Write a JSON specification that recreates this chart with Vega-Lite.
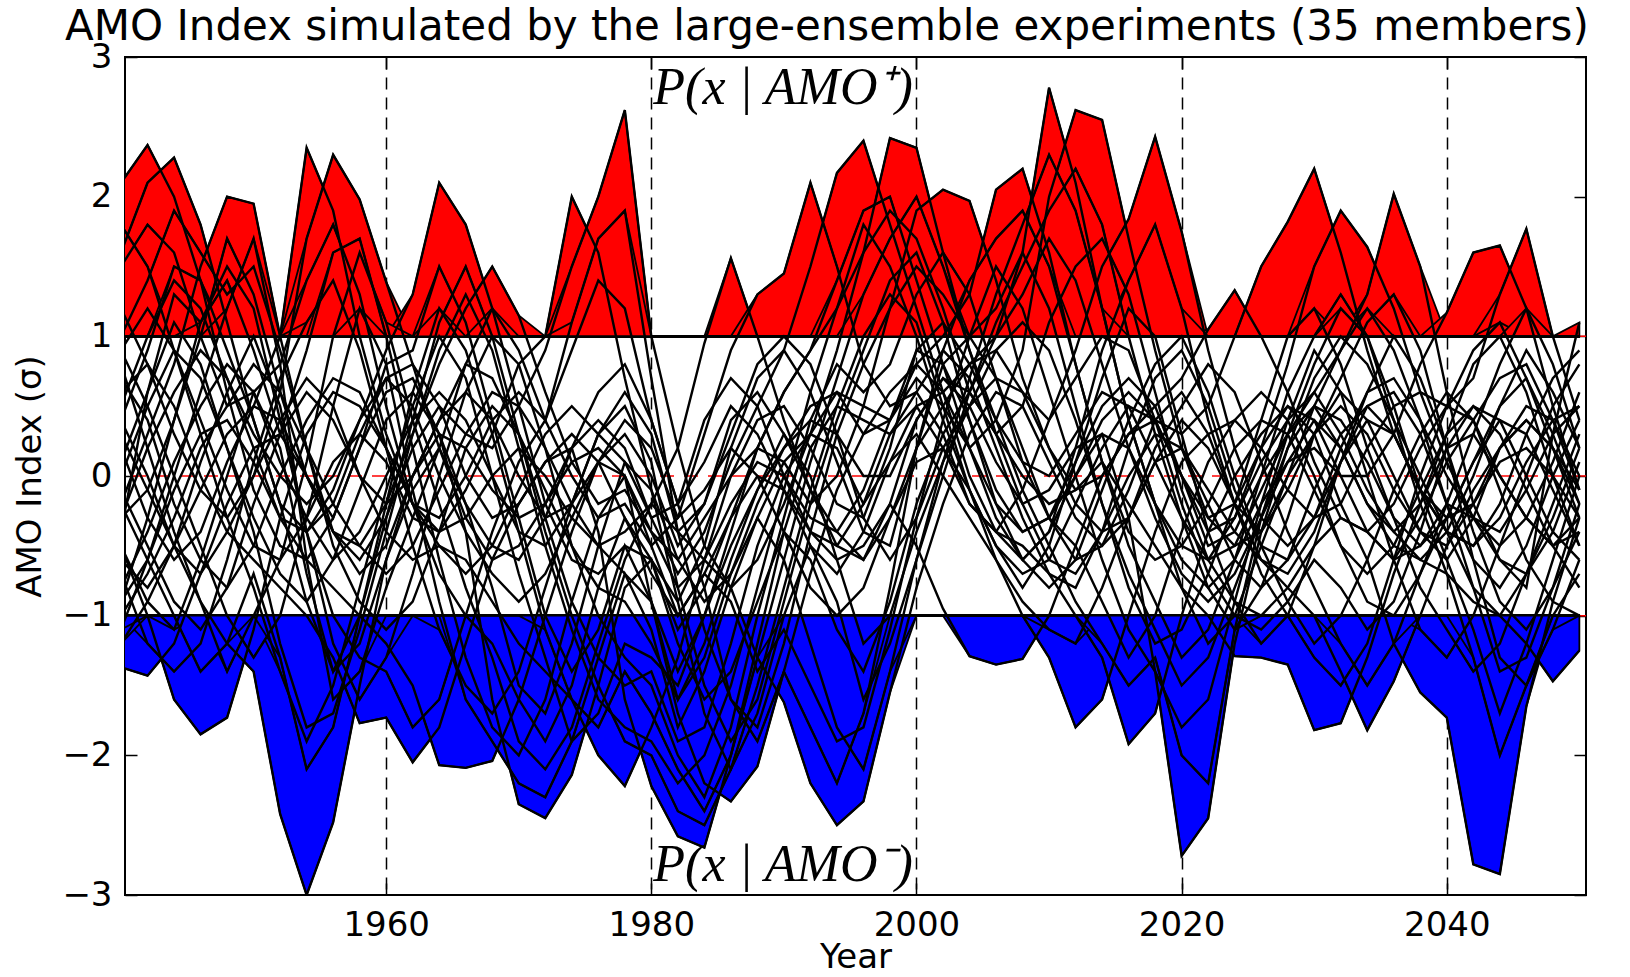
{
"$schema":"https://vega.github.io/schema/vega-lite/v6.json",
"width":1461,"height":838,
"autosize":{"type":"none"},
"padding":{"left":125,"top":57,"right":44,"bottom":82},
"background":"white",
"config":{"view":{"stroke":"black","strokeWidth":2},"font":"DejaVu Sans",
"axis":{"labelFont":"DejaVu Sans","titleFont":"DejaVu Sans","labelColor":"black","titleColor":"black","tickColor":"black","tickWidth":1.5,"titleFontWeight":"normal"}},
"title":{"text":"AMO Index simulated by the large-ensemble experiments (35 members)","font":"DejaVu Sans","fontSize":42,"fontWeight":"normal","color":"black","anchor":"start","frame":"group","dx":-60,"dy":56,"offset":14,"baseline":"alphabetic"},
"datasets":{
"refs":[{"level":0},{"level":1},{"level":-1}],
"notes":[{"x":1980,"y":2.66,"label":"P(x | AMO⁺)"},{"x":1980,"y":-2.9,"label":"P(x | AMO⁻)"}],
"ens":[
{"m":"m1","1940":2.1,"1942":2.37,"1944":2.0,"1946":1.4,"1948":0.6,"1950":-0.1,"1952":-0.5,"1954":-0.6,"1956":-0.3,"1958":0.2,"1960":0.6,"1962":0.7,"1964":0.3,"1966":-0.4,"1968":-1.6,"1970":-2.35,"1972":-2.45,"1974":-2.14,"1976":-1.5,"1978":-0.8,"1980":-0.6,"1982":-0.9,"1984":-0.5,"1986":0.2,"1988":0.7,"1990":0.9,"1992":0.6,"1994":0.1,"1996":-0.4,"1998":-0.5,"2000":0.2,"2002":0.8,"2004":1.0,"2006":0.7,"2008":0.2,"2010":-0.3,"2012":-0.6,"2014":-0.5,"2016":-0.1,"2018":0.4,"2020":0.6,"2022":0.3,"2024":-0.2,"2026":-0.6,"2028":-0.7,"2030":-0.4,"2032":0.1,"2034":0.5,"2036":0.6,"2038":0.3,"2040":-0.2,"2042":-0.6,"2044":-0.8,"2046":-0.5,"2048":0.0,"2050":0.4},
{"m":"m2","1940":1.6,"1942":2.1,"1944":2.28,"1946":1.8,"1948":1.1,"1950":0.4,"1952":-0.2,"1954":-0.4,"1956":-0.2,"1958":0.3,"1960":0.7,"1962":0.8,"1964":0.5,"1966":0.0,"1968":-0.3,"1970":-0.2,"1972":0.1,"1974":0.2,"1976":-0.4,"1978":-1.6,"1980":-2.22,"1982":-2.58,"1984":-2.66,"1986":-2.0,"1988":-1.2,"1990":-0.4,"1992":0.2,"1994":0.5,"1996":0.4,"1998":0.3,"2000":0.6,"2002":0.9,"2004":0.7,"2006":0.2,"2008":-0.3,"2010":-0.7,"2012":-0.8,"2014":-0.4,"2016":0.2,"2018":0.7,"2020":0.9,"2022":0.5,"2024":-0.1,"2026":-0.5,"2028":-0.6,"2030":-0.3,"2032":0.2,"2034":0.6,"2036":0.7,"2038":0.4,"2040":0.0,"2042":-0.3,"2044":-0.4,"2046":-0.1,"2048":0.3,"2050":0.5},
{"m":"m3","1940":-0.2,"1942":0.3,"1944":0.8,"1946":1.5,"1948":2.0,"1950":1.95,"1952":1.0,"1954":0.2,"1956":-0.4,"1958":-0.7,"1960":-0.5,"1962":0.0,"1964":0.4,"1966":0.6,"1968":0.4,"1970":0.0,"1972":-0.3,"1974":-0.2,"1976":0.3,"1978":0.6,"1980":0.3,"1982":-0.4,"1984":-0.6,"1986":-0.8,"1988":-1.3,"1990":-1.62,"1992":-2.2,"1994":-2.5,"1996":-2.33,"1998":-1.55,"2000":-0.8,"2002":-0.2,"2004":0.3,"2006":0.6,"2008":0.5,"2010":0.1,"2012":-0.3,"2014":-0.5,"2016":-0.3,"2018":0.1,"2020":0.4,"2022":0.2,"2024":-0.2,"2026":-0.4,"2028":-0.1,"2030":0.3,"2032":0.6,"2034":0.4,"2036":0.0,"2038":-0.4,"2040":-0.6,"2042":-0.3,"2044":0.2,"2046":0.5,"2048":0.4,"2050":0.0},
{"m":"m4","1940":-0.6,"1942":-0.8,"1944":-0.5,"1946":-0.1,"1948":0.3,"1950":0.5,"1952":1.0,"1954":2.35,"1956":1.9,"1958":1.0,"1960":0.3,"1962":-0.2,"1964":-0.4,"1966":-0.3,"1968":0.0,"1970":0.2,"1972":0.0,"1974":-0.3,"1976":-0.5,"1978":-0.4,"1980":-0.2,"1982":0.2,"1984":0.95,"1986":1.56,"1988":1.0,"1990":0.4,"1992":-0.1,"1994":-0.5,"1996":-0.6,"1998":-0.2,"2000":0.4,"2002":0.7,"2004":0.5,"2006":0.1,"2008":-0.2,"2010":-0.1,"2012":0.2,"2014":0.3,"2016":-0.3,"2018":-1.4,"2020":-2.72,"2022":-2.45,"2024":-1.2,"2026":-0.4,"2028":0.2,"2030":0.5,"2032":0.4,"2034":0.1,"2036":-0.3,"2038":-0.5,"2040":-0.3,"2042":0.1,"2044":0.4,"2046":0.3,"2048":-0.1,"2050":-0.5},
{"m":"m5","1940":0.4,"1942":0.0,"1944":-0.5,"1946":-0.7,"1948":-0.4,"1950":0.0,"1952":0.6,"1954":1.7,"1956":2.3,"1958":1.98,"1960":1.39,"1962":0.8,"1964":0.2,"1966":-0.3,"1968":-0.6,"1970":-0.5,"1972":-0.2,"1974":0.2,"1976":0.4,"1978":0.2,"1980":-0.3,"1982":-0.7,"1984":-0.4,"1986":0.1,"1988":0.5,"1990":0.9,"1992":1.5,"1994":2.17,"1996":2.4,"1998":1.8,"2000":1.2,"2002":0.6,"2004":0.0,"2006":-0.4,"2008":-0.6,"2010":-0.4,"2012":0.0,"2014":0.4,"2016":0.6,"2018":0.4,"2020":0.0,"2022":-0.3,"2024":-0.2,"2026":0.2,"2028":0.5,"2030":0.3,"2032":-0.2,"2034":-0.6,"2036":-1.2,"2038":-1.55,"2040":-1.73,"2042":-2.78,"2044":-2.85,"2046":-1.65,"2048":-0.9,"2050":-0.3},
{"m":"m6","1940":-0.9,"1942":-0.6,"1944":-0.1,"1946":0.3,"1948":0.4,"1950":0.1,"1952":-0.3,"1954":-0.4,"1956":-0.1,"1958":0.4,"1960":0.9,"1962":1.3,"1964":2.1,"1966":1.8,"1968":1.2,"1970":0.5,"1972":-0.2,"1974":-0.6,"1976":-0.7,"1978":-0.5,"1980":-0.6,"1982":-1.1,"1984":-0.8,"1986":-0.3,"1988":0.2,"1990":0.6,"1992":0.9,"1994":1.2,"1996":1.6,"1998":2.42,"2000":2.35,"2002":1.6,"2004":0.9,"2006":0.3,"2008":-0.2,"2010":-0.6,"2012":-0.7,"2014":-0.4,"2016":0.0,"2018":0.3,"2020":0.2,"2022":-0.2,"2024":-0.6,"2026":-0.8,"2028":-0.6,"2030":-0.1,"2032":0.3,"2034":0.5,"2036":0.3,"2038":-0.1,"2040":-0.4,"2042":-0.5,"2044":-0.2,"2046":0.3,"2048":0.7,"2050":0.9},
{"m":"m7","1940":-1.37,"1942":-1.43,"1944":-1.2,"1946":-0.7,"1948":-0.2,"1950":0.2,"1952":0.3,"1954":0.0,"1956":-0.4,"1958":-0.5,"1960":-0.2,"1962":0.3,"1964":0.8,"1966":1.2,"1968":1.5,"1970":1.15,"1972":0.6,"1974":0.1,"1976":-0.2,"1978":-0.1,"1980":-0.4,"1982":-0.8,"1984":-0.6,"1986":-0.2,"1988":0.1,"1990":0.0,"1992":-0.3,"1994":-0.4,"1996":-0.1,"1998":0.4,"2000":0.8,"2002":1.0,"2004":1.3,"2006":2.05,"2008":2.2,"2010":1.6,"2012":0.8,"2014":0.1,"2016":-0.4,"2018":-0.6,"2020":-0.5,"2022":-0.2,"2024":0.2,"2026":0.4,"2028":0.3,"2030":-0.1,"2032":-0.5,"2034":-0.7,"2036":-0.5,"2038":-0.1,"2040":0.3,"2042":0.5,"2044":0.4,"2046":0.0,"2048":-0.4,"2050":-0.6},
{"m":"m8","1940":0.9,"1942":1.2,"1944":0.9,"1946":0.4,"1948":-0.1,"1950":-0.5,"1952":-0.6,"1954":-0.3,"1956":0.1,"1958":0.3,"1960":0.1,"1962":-0.3,"1964":-0.4,"1966":-0.1,"1968":0.3,"1970":0.8,"1972":1.0,"1974":2.0,"1976":1.6,"1978":0.7,"1980":-0.1,"1982":-0.6,"1984":-0.9,"1986":-0.7,"1988":-0.3,"1990":0.1,"1992":0.3,"1994":0.2,"1996":-0.2,"1998":0.1,"2000":0.5,"2002":0.6,"2004":0.8,"2006":1.0,"2008":1.6,"2010":2.78,"2012":2.1,"2014":1.2,"2016":0.4,"2018":-0.2,"2020":-0.5,"2022":-0.6,"2024":-0.3,"2026":0.1,"2028":0.4,"2030":0.6,"2032":0.3,"2034":-0.1,"2036":-0.4,"2038":-0.6,"2040":-0.4,"2042":0.0,"2044":0.5,"2046":0.9,"2048":0.6,"2050":0.2},
{"m":"m9","1940":0.2,"1942":-0.3,"1944":-0.6,"1946":-0.4,"1948":0.1,"1950":0.5,"1952":0.4,"1954":0.0,"1956":-0.4,"1958":-0.6,"1960":-0.3,"1962":0.2,"1964":0.5,"1966":0.3,"1968":0.2,"1970":0.5,"1972":0.9,"1974":1.5,"1976":2.0,"1978":2.62,"1980":1.0,"1982":0.2,"1984":-0.5,"1986":-0.8,"1988":-0.6,"1990":-0.2,"1992":0.3,"1994":0.6,"1996":0.5,"1998":0.4,"2000":0.7,"2002":0.5,"2004":0.2,"2006":0.4,"2008":0.9,"2010":2.0,"2012":2.62,"2014":2.55,"2016":1.7,"2018":0.9,"2020":0.2,"2022":-0.3,"2024":-0.5,"2026":-0.4,"2028":0.0,"2030":0.3,"2032":0.5,"2034":0.3,"2036":-0.1,"2038":-0.4,"2040":-0.5,"2042":-0.2,"2044":0.2,"2046":0.4,"2048":0.2,"2050":-0.2},
{"m":"m10","1940":-0.5,"1942":-1.0,"1944":-1.6,"1946":-1.85,"1948":-1.73,"1950":-1.1,"1952":-0.3,"1954":0.3,"1956":0.6,"1958":0.5,"1960":0.2,"1962":-0.2,"1964":-0.3,"1966":0.0,"1968":0.4,"1970":0.6,"1972":0.4,"1974":0.0,"1976":-0.3,"1978":-0.2,"1980":-0.5,"1982":-0.3,"1984":0.3,"1986":0.9,"1988":1.3,"1990":1.45,"1992":2.1,"1994":1.5,"1996":0.8,"1998":0.5,"2000":0.6,"2002":0.3,"2004":-0.2,"2006":-0.4,"2008":-0.1,"2010":0.4,"2012":0.9,"2014":1.5,"2016":1.84,"2018":2.43,"2020":1.75,"2022":0.9,"2024":0.2,"2026":-0.3,"2028":-0.5,"2030":-0.3,"2032":0.1,"2034":0.4,"2036":0.3,"2038":-0.1,"2040":-0.4,"2042":-0.5,"2044":-0.3,"2046":0.1,"2048":0.4,"2050":0.5},
{"m":"m11","1940":0.3,"1942":-0.1,"1944":-0.5,"1946":-0.9,"1948":-1.2,"1950":-1.4,"1952":-2.42,"1954":-3.0,"1956":-2.48,"1958":-1.5,"1960":-0.6,"1962":0.0,"1964":0.3,"1966":0.2,"1968":-0.1,"1970":-0.3,"1972":-0.2,"1974":0.1,"1976":0.2,"1978":0.0,"1980":-0.4,"1982":-0.6,"1984":-0.3,"1986":0.0,"1988":0.2,"1990":0.1,"1992":-0.2,"1994":0.0,"1996":0.5,"1998":1.2,"2000":1.9,"2002":2.05,"2004":1.97,"2006":1.4,"2008":0.7,"2010":0.2,"2012":-0.1,"2014":0.0,"2016":0.3,"2018":0.5,"2020":0.7,"2022":1.05,"2024":1.33,"2026":1.0,"2028":0.6,"2030":0.1,"2032":-0.3,"2034":-0.4,"2036":-0.2,"2038":0.2,"2040":0.5,"2042":0.4,"2044":0.0,"2046":-0.3,"2048":-0.5,"2050":-0.4},
{"m":"m12","1940":0.6,"1942":0.8,"1944":0.5,"1946":0.0,"1948":-0.4,"1950":-0.6,"1952":-0.8,"1954":-1.0,"1956":-1.3,"1958":-1.77,"1960":-1.73,"1962":-2.05,"1964":-1.8,"1966":-1.2,"1968":-0.6,"1970":-0.2,"1972":0.1,"1974":0.3,"1976":0.1,"1978":-0.3,"1980":-0.7,"1982":-1.0,"1984":-0.7,"1986":-0.3,"1988":0.0,"1990":-0.1,"1992":-0.4,"1994":-0.6,"1996":-0.5,"1998":-0.2,"2000":-0.5,"2002":-0.95,"2004":-1.29,"2006":-1.35,"2008":-1.31,"2010":-1.0,"2012":-0.5,"2014":0.0,"2016":0.3,"2018":0.4,"2020":0.3,"2022":0.5,"2024":1.0,"2026":1.5,"2028":1.82,"2030":2.2,"2032":1.6,"2034":0.9,"2036":0.3,"2038":-0.1,"2040":-0.3,"2042":-0.2,"2044":0.1,"2046":0.2,"2048":0.0,"2050":-0.3},
{"m":"m13","1940":-0.3,"1942":0.2,"1944":0.6,"1946":0.9,"1948":0.7,"1950":0.2,"1952":-0.3,"1954":-0.6,"1956":-0.8,"1958":-1.0,"1960":-1.2,"1962":-1.5,"1964":-2.07,"1966":-2.09,"1968":-2.04,"1970":-1.6,"1972":-1.0,"1974":-0.4,"1976":0.1,"1978":0.3,"1980":0.0,"1982":-0.5,"1984":-0.2,"1986":0.4,"1988":0.6,"1990":0.3,"1992":-0.1,"1994":-0.4,"1996":-0.6,"1998":-0.3,"2000":0.1,"2002":0.2,"2004":-0.1,"2006":-0.5,"2008":-0.7,"2010":-0.6,"2012":-0.2,"2014":0.2,"2016":0.5,"2018":0.4,"2020":0.0,"2022":-0.4,"2024":-0.3,"2026":0.2,"2028":0.8,"2030":1.5,"2032":1.9,"2034":1.64,"2036":1.2,"2038":0.6,"2040":0.1,"2042":-0.3,"2044":-0.5,"2046":-0.3,"2048":0.1,"2050":0.6},
{"m":"m14","1940":1.2,"1942":0.8,"1944":0.3,"1946":-0.1,"1948":-0.3,"1950":0.0,"1952":0.4,"1954":0.7,"1956":0.5,"1958":0.0,"1960":-0.4,"1962":-0.6,"1964":-0.5,"1966":-0.6,"1968":-0.9,"1970":-1.2,"1972":-1.4,"1974":-1.6,"1976":-2.0,"1978":-2.22,"1980":-1.8,"1982":-1.3,"1984":-0.6,"1986":0.0,"1988":0.4,"1990":0.5,"1992":0.2,"1994":-0.2,"1996":-0.3,"1998":0.2,"2000":0.9,"2002":0.8,"2004":0.4,"2006":-0.1,"2008":-0.4,"2010":-0.3,"2012":0.1,"2014":0.5,"2016":0.7,"2018":0.5,"2020":0.0,"2022":-0.5,"2024":-0.4,"2026":0.0,"2028":0.3,"2030":0.6,"2032":0.9,"2034":1.3,"2036":2.02,"2038":1.5,"2040":0.6,"2042":-0.2,"2044":-0.6,"2046":-0.7,"2048":-0.4,"2050":0.1},
{"m":"m15","1940":-0.8,"1942":-0.4,"1944":0.1,"1946":0.5,"1948":0.8,"1950":0.6,"1952":0.1,"1954":-0.3,"1956":-0.6,"1958":-0.4,"1960":0.0,"1962":0.4,"1964":0.6,"1966":0.4,"1968":0.0,"1970":-0.4,"1972":-0.5,"1974":-0.2,"1976":0.1,"1978":0.0,"1980":-0.9,"1982":-1.7,"1984":-2.2,"1986":-2.33,"1988":-2.08,"1990":-1.4,"1992":-0.7,"1994":-0.1,"1996":0.3,"1998":0.6,"2000":0.8,"2002":0.6,"2004":0.2,"2006":-0.2,"2008":-0.4,"2010":-0.3,"2012":0.0,"2014":0.3,"2016":0.2,"2018":-0.2,"2020":-0.6,"2022":-0.8,"2024":-0.6,"2026":-0.2,"2028":0.1,"2030":0.2,"2032":0.0,"2034":0.0,"2036":0.3,"2038":0.8,"2040":1.17,"2042":1.6,"2044":1.65,"2046":1.2,"2048":0.5,"2050":-0.1},
{"m":"m16","1940":0.0,"1942":0.5,"1944":0.9,"1946":0.7,"1948":0.2,"1950":-0.3,"1952":-0.7,"1954":-0.9,"1956":-0.6,"1958":-0.1,"1960":0.4,"1962":0.6,"1964":0.3,"1966":-0.2,"1968":-0.5,"1970":-0.6,"1972":-0.3,"1974":0.2,"1976":0.6,"1978":0.8,"1980":0.4,"1982":-0.2,"1984":0.1,"1986":0.5,"1988":0.3,"1990":-0.1,"1992":-0.5,"1994":-0.7,"1996":-0.4,"1998":0.1,"2000":0.3,"2002":0.0,"2004":-0.3,"2006":-0.6,"2008":-1.0,"2010":-1.3,"2012":-1.8,"2014":-1.6,"2016":-1.0,"2018":-0.4,"2020":0.1,"2022":0.3,"2024":0.4,"2026":0.2,"2028":-0.1,"2030":-0.3,"2032":-0.2,"2034":0.2,"2036":0.5,"2038":0.6,"2040":0.5,"2042":0.7,"2044":1.3,"2046":1.77,"2048":1.0,"2050":0.4},
{"m":"m17","1940":0.7,"1942":0.4,"1944":-0.2,"1946":-0.6,"1948":-0.8,"1950":-0.5,"1952":0.0,"1954":0.4,"1956":0.7,"1958":0.6,"1960":0.2,"1962":-0.2,"1964":-0.5,"1966":-0.7,"1968":-0.5,"1970":-0.1,"1972":0.3,"1974":0.5,"1976":0.3,"1978":0.1,"1980":-0.3,"1982":-0.2,"1984":0.4,"1986":0.7,"1988":0.5,"1990":0.0,"1992":-0.4,"1994":-0.5,"1996":-0.2,"1998":0.3,"2000":0.5,"2002":0.2,"2004":-0.2,"2006":-0.4,"2008":-0.5,"2010":-0.7,"2012":-1.0,"2014":-1.3,"2016":-1.92,"2018":-1.7,"2020":-1.0,"2022":-0.4,"2024":0.0,"2026":0.3,"2028":0.5,"2030":0.4,"2032":0.0,"2034":-0.4,"2036":-0.6,"2038":-0.5,"2040":-0.2,"2042":-0.3,"2044":-0.6,"2046":-0.8,"2048":0.3,"2050":1.1},
{"m":"m18","1940":-1.0,"1942":-0.7,"1944":-0.3,"1946":0.2,"1948":0.5,"1950":0.8,"1952":0.6,"1954":0.2,"1956":-0.2,"1958":-0.5,"1960":-0.7,"1962":-0.5,"1964":-0.1,"1966":0.3,"1968":0.6,"1970":0.5,"1972":0.2,"1974":-0.2,"1976":-0.5,"1978":-0.7,"1980":-0.9,"1982":-1.4,"1984":-1.0,"1986":-0.5,"1988":-0.1,"1990":0.2,"1992":0.4,"1994":0.3,"1996":0.0,"1998":0.0,"2000":0.4,"2002":0.7,"2004":0.6,"2006":0.3,"2008":0.0,"2010":-0.2,"2012":-0.1,"2014":0.1,"2016":-0.2,"2018":-0.5,"2020":-0.8,"2022":-1.0,"2024":-1.29,"2026":-1.3,"2028":-1.35,"2030":-1.82,"2032":-1.77,"2034":-1.3,"2036":-0.7,"2038":-0.2,"2040":0.2,"2042":0.3,"2044":0.0,"2046":-0.3,"2048":-0.5,"2050":-0.3},
{"m":"m19","1940":0.5,"1942":1.0,"1944":1.4,"1946":1.2,"1948":0.7,"1950":0.3,"1952":0.0,"1954":-0.2,"1956":0.0,"1958":0.4,"1960":0.7,"1962":0.5,"1964":0.0,"1966":-0.4,"1968":-0.7,"1970":-0.9,"1972":-0.7,"1974":-0.3,"1976":0.1,"1978":0.4,"1980":0.2,"1982":-0.3,"1984":-0.1,"1986":0.2,"1988":0.0,"1990":-0.4,"1992":-0.8,"1994":-1.0,"1996":-0.8,"1998":-0.3,"2000":0.2,"2002":0.5,"2004":0.8,"2006":0.9,"2008":0.6,"2010":0.2,"2012":-0.2,"2014":-0.4,"2016":-0.3,"2018":0.1,"2020":0.2,"2022":-0.1,"2024":-0.4,"2026":-0.6,"2028":-0.8,"2030":-1.0,"2032":-1.4,"2034":-1.82,"2036":-1.47,"2038":-1.0,"2040":-0.5,"2042":-0.1,"2044":0.2,"2046":0.4,"2048":0.2,"2050":-0.1},
{"m":"m20","1940":-0.1,"1942":-0.5,"1944":-0.9,"1946":-1.1,"1948":-0.8,"1950":-0.2,"1952":0.3,"1954":0.6,"1956":0.4,"1958":0.0,"1960":-0.2,"1962":0.0,"1964":0.4,"1966":0.8,"1968":0.7,"1970":0.3,"1972":-0.1,"1974":-0.5,"1976":-0.8,"1978":-0.9,"1980":-1.2,"1982":-1.6,"1984":-1.3,"1986":-0.7,"1988":-0.2,"1990":0.2,"1992":0.5,"1994":0.6,"1996":0.3,"1998":0.4,"2000":0.9,"2002":1.1,"2004":0.8,"2006":0.4,"2008":0.1,"2010":0.0,"2012":0.3,"2014":0.6,"2016":0.5,"2018":0.1,"2020":-0.3,"2022":-0.6,"2024":-0.5,"2026":-0.1,"2028":0.3,"2030":0.5,"2032":0.2,"2034":-0.2,"2036":-0.5,"2038":-0.6,"2040":-0.7,"2042":-0.9,"2044":-1.0,"2046":-1.2,"2048":-1.47,"2050":-1.25},
{"m":"m21","1940":1.5,"1942":1.8,"1944":1.6,"1946":1.0,"1948":0.5,"1950":0.6,"1952":0.8,"1954":1.4,"1956":1.8,"1958":1.3,"1960":0.5,"1962":-0.2,"1964":-0.7,"1966":-1.0,"1968":-1.2,"1970":-1.6,"1972":-1.9,"1974":-1.5,"1976":-0.8,"1978":-0.3,"1980":-0.6,"1982":-1.2,"1984":-1.6,"1986":-1.4,"1988":-0.9,"1990":-0.4,"1992":-0.6,"1994":-1.1,"1996":-1.4,"1998":-0.9,"2000":-0.2,"2002":0.3,"2004":0.6,"2006":1.0,"2008":1.3,"2010":1.7,"2012":1.4,"2014":0.8,"2016":0.2,"2018":-0.3,"2020":-0.7,"2022":-0.9,"2024":-0.7,"2026":-0.3,"2028":0.2,"2030":0.7,"2032":1.0,"2034":0.8,"2036":0.4,"2038":0.0,"2040":-0.4,"2042":-0.8,"2044":-1.0,"2046":-0.7,"2048":-0.3,"2050":0.2},
{"m":"m22","1940":1.0,"1942":1.4,"1944":1.9,"1946":1.6,"1948":1.3,"1950":1.5,"1952":0.9,"1954":0.2,"1956":-0.5,"1958":-0.9,"1960":-1.1,"1962":-0.9,"1964":-0.4,"1966":0.2,"1968":0.5,"1970":0.3,"1972":-0.3,"1974":-0.9,"1976":-1.3,"1978":-1.5,"1980":-1.4,"1982":-1.9,"1984":-1.8,"1986":-1.2,"1988":-0.5,"1990":0.0,"1992":0.3,"1994":0.9,"1996":1.6,"1998":1.9,"2000":1.7,"2002":1.2,"2004":0.6,"2006":0.3,"2008":0.5,"2010":1.1,"2012":1.5,"2014":1.7,"2016":1.3,"2018":0.6,"2020":-0.1,"2022":-0.6,"2024":-0.9,"2026":-1.0,"2028":-0.8,"2030":-0.5,"2032":-0.3,"2034":-0.4,"2036":-0.6,"2038":-0.3,"2040":0.1,"2042":0.4,"2044":0.7,"2046":0.8,"2048":0.4,"2050":-0.1},
{"m":"m23","1940":-0.4,"1942":0.6,"1944":1.3,"1946":1.1,"1948":1.5,"1950":1.2,"1952":0.4,"1954":-0.4,"1956":-1.0,"1958":-1.3,"1960":-1.4,"1962":-1.8,"1964":-1.6,"1966":-1.0,"1968":-0.4,"1970":0.1,"1972":0.4,"1974":0.9,"1976":1.4,"1978":1.2,"1980":0.4,"1982":-0.2,"1984":-0.8,"1986":-1.6,"1988":-1.8,"1990":-1.2,"1992":-0.4,"1994":0.3,"1996":0.8,"1998":1.2,"2000":1.5,"2002":1.3,"2004":1.0,"2006":1.2,"2008":1.6,"2010":1.2,"2012":0.5,"2014":-0.2,"2016":-0.7,"2018":-1.1,"2020":-1.5,"2022":-1.3,"2024":-0.8,"2026":-0.3,"2028":0.1,"2030":0.4,"2032":0.2,"2034":-0.2,"2036":-0.4,"2038":-0.2,"2040":0.3,"2042":0.8,"2044":1.0,"2046":0.6,"2048":0.0,"2050":-0.5},
{"m":"m24","1940":0.8,"1942":0.2,"1944":-0.4,"1946":-0.9,"1948":-1.4,"1950":-1.0,"1952":-0.6,"1954":0.1,"1956":1.0,"1958":1.6,"1960":1.1,"1962":0.4,"1964":-0.2,"1966":-0.8,"1968":-1.3,"1970":-1.9,"1972":-2.1,"1974":-1.8,"1976":-1.2,"1978":-0.6,"1980":-0.2,"1982":-0.4,"1984":-0.2,"1986":0.3,"1988":0.8,"1990":1.0,"1992":0.8,"1994":0.3,"1996":-0.3,"1998":-0.6,"2000":-0.3,"2002":0.2,"2004":0.5,"2006":0.7,"2008":0.6,"2010":0.4,"2012":0.7,"2014":1.0,"2016":0.9,"2018":0.4,"2020":-0.2,"2022":-0.7,"2024":-1.0,"2026":-1.1,"2028":-0.9,"2030":-0.6,"2032":-0.8,"2034":-1.1,"2036":-0.9,"2038":-0.4,"2040":0.2,"2042":0.5,"2044":0.3,"2046":-0.1,"2048":-0.5,"2050":-0.8},
{"m":"m25","1940":-0.7,"1942":-1.2,"1944":-1.4,"1946":-1.2,"1948":-0.6,"1950":0.1,"1952":0.7,"1954":1.1,"1956":1.4,"1958":0.9,"1960":0.2,"1962":-0.5,"1964":-1.1,"1966":-1.5,"1968":-1.7,"1970":-1.4,"1972":-0.8,"1974":-0.2,"1976":0.3,"1978":0.5,"1980":0.1,"1982":-0.8,"1984":-1.5,"1986":-1.9,"1988":-1.6,"1990":-0.9,"1992":-0.2,"1994":0.4,"1996":0.9,"1998":1.4,"2000":1.6,"2002":1.1,"2004":0.4,"2006":-0.2,"2008":-0.6,"2010":-0.8,"2012":-0.6,"2014":-0.1,"2016":0.4,"2018":0.8,"2020":1.0,"2022":0.6,"2024":0.0,"2026":-0.5,"2028":-0.9,"2030":-1.2,"2032":-1.0,"2034":-0.6,"2036":-0.1,"2038":0.3,"2040":0.6,"2042":0.4,"2044":-0.1,"2046":-0.6,"2048":-0.9,"2050":-1.0},
{"m":"m26","1940":-1.2,"1942":-0.9,"1944":-0.5,"1946":0.1,"1948":0.6,"1950":1.0,"1952":0.5,"1954":-0.4,"1956":-1.2,"1958":-1.6,"1960":-1.3,"1962":-0.7,"1964":0.0,"1966":0.6,"1968":1.0,"1970":0.8,"1972":0.2,"1974":-0.5,"1976":-1.0,"1978":-1.3,"1980":-1.5,"1982":-2.0,"1984":-2.3,"1986":-1.8,"1988":-1.0,"1990":-0.3,"1992":0.4,"1994":0.8,"1996":0.6,"1998":0.8,"2000":1.3,"2002":1.6,"2004":1.3,"2006":0.7,"2008":0.1,"2010":-0.3,"2012":-0.5,"2014":-0.9,"2016":-1.3,"2018":-1.0,"2020":-0.4,"2022":0.1,"2024":0.4,"2026":0.6,"2028":0.4,"2030":0.0,"2032":-0.5,"2034":-0.9,"2036":-1.0,"2038":-0.7,"2040":-0.3,"2042":0.1,"2044":0.5,"2046":0.7,"2048":0.3,"2050":-0.2},
{"m":"m27","1940":0.1,"1942":0.6,"1944":1.1,"1946":0.8,"1948":0.2,"1950":-0.4,"1952":-1.2,"1954":-1.8,"1956":-1.7,"1958":-1.1,"1960":-0.4,"1962":0.3,"1964":0.9,"1966":1.3,"1968":0.9,"1970":0.2,"1972":-0.5,"1974":-1.1,"1976":-1.6,"1978":-1.8,"1980":-1.9,"1982":-2.2,"1984":-2.0,"1986":-1.5,"1988":-0.8,"1990":-0.1,"1992":0.6,"1994":1.2,"1996":1.8,"1998":1.5,"2000":1.0,"2002":0.4,"2004":-0.1,"2006":-0.5,"2008":-0.8,"2010":-0.5,"2012":0.1,"2014":0.7,"2016":1.2,"2018":1.0,"2020":0.3,"2022":-0.4,"2024":-0.9,"2026":-1.2,"2028":-1.0,"2030":-0.5,"2032":0.1,"2034":0.6,"2036":1.0,"2038":0.7,"2040":0.2,"2042":-0.4,"2044":-0.9,"2046":-1.1,"2048":-0.8,"2050":-0.2},
{"m":"m28","1940":-0.3,"1942":-0.1,"1944":0.4,"1946":1.0,"1948":1.7,"1950":1.3,"1952":0.6,"1954":0.0,"1956":-0.3,"1958":0.2,"1960":0.8,"1962":0.9,"1964":1.5,"1966":1.1,"1968":0.4,"1970":-0.3,"1972":-1.0,"1974":-1.4,"1976":-1.1,"1978":-0.5,"1980":-0.9,"1982":-1.6,"1984":-1.2,"1986":-0.6,"1988":-0.1,"1990":0.3,"1992":0.0,"1994":-0.6,"1996":-1.2,"1998":-1.0,"2000":-0.4,"2002":0.1,"2004":0.5,"2006":0.9,"2008":1.1,"2010":0.9,"2012":0.4,"2014":-0.2,"2016":-0.8,"2018":-1.2,"2020":-1.1,"2022":-0.7,"2024":-0.2,"2026":0.4,"2028":1.0,"2030":1.2,"2032":0.8,"2034":0.2,"2036":-0.3,"2038":-0.8,"2040":-1.1,"2042":-1.4,"2044":-1.2,"2046":-0.7,"2048":-0.2,"2050":0.3},
{"m":"m29","1940":1.8,"1942":1.5,"1944":0.9,"1946":0.3,"1948":-0.3,"1950":-0.8,"1952":-1.4,"1954":-1.9,"1956":-1.5,"1958":-0.8,"1960":-0.1,"1962":0.5,"1964":1.0,"1966":0.7,"1968":0.0,"1970":-0.7,"1972":-1.3,"1974":-1.9,"1976":-1.7,"1978":-1.2,"1980":-1.3,"1982":-1.5,"1984":-1.0,"1986":-0.4,"1988":0.2,"1990":0.6,"1992":0.9,"1994":1.4,"1996":1.9,"1998":2.0,"2000":1.4,"2002":0.8,"2004":0.2,"2006":-0.3,"2008":-0.6,"2010":-0.4,"2012":0.2,"2014":0.9,"2016":1.4,"2018":1.8,"2020":1.2,"2022":0.4,"2024":-0.2,"2026":-0.7,"2028":-1.0,"2030":-1.3,"2032":-1.5,"2034":-1.2,"2036":-0.6,"2038":0.0,"2040":0.5,"2042":0.9,"2044":1.1,"2046":0.7,"2048":0.2,"2050":-0.3},
{"m":"m30","1940":0.4,"1942":0.9,"1944":1.5,"1946":1.4,"1948":0.9,"1950":0.4,"1952":-0.2,"1954":-0.9,"1956":-1.4,"1958":-1.2,"1960":-0.6,"1962":-0.1,"1964":0.2,"1966":-0.2,"1968":-0.8,"1970":-1.5,"1972":-1.7,"1974":-1.2,"1976":-0.5,"1978":0.1,"1980":-0.1,"1982":-0.9,"1984":-1.7,"1986":-2.1,"1988":-1.7,"1990":-1.0,"1992":-0.5,"1994":-0.9,"1996":-1.6,"1998":-1.2,"2000":-0.6,"2002":0.0,"2004":0.6,"2006":1.1,"2008":1.5,"2010":1.9,"2012":2.2,"2014":1.8,"2016":1.0,"2018":0.3,"2020":-0.3,"2022":-0.8,"2024":-1.1,"2026":-0.8,"2028":-0.3,"2030":0.3,"2032":0.7,"2034":1.1,"2036":1.3,"2038":0.9,"2040":0.2,"2042":-0.6,"2044":-1.3,"2046":-1.5,"2048":-1.1,"2050":-0.6},
{"m":"m31","1940":-0.9,"1942":-0.3,"1944":0.4,"1946":1.1,"1948":1.4,"1950":0.9,"1952":0.3,"1954":0.9,"1956":1.6,"1958":1.7,"1960":1.0,"1962":0.2,"1964":-0.6,"1966":-1.3,"1968":-1.8,"1970":-2.0,"1972":-1.6,"1974":-0.9,"1976":-0.3,"1978":0.0,"1980":-0.5,"1982":-1.0,"1984":-0.7,"1986":-0.9,"1988":-1.4,"1990":-1.1,"1992":-1.5,"1994":-1.9,"1996":-1.8,"1998":-1.1,"2000":-0.3,"2002":0.4,"2004":1.0,"2006":1.5,"2008":1.2,"2010":0.6,"2012":0.0,"2014":-0.6,"2016":-1.1,"2018":-1.4,"2020":-1.8,"2022":-1.6,"2024":-0.9,"2026":-0.2,"2028":0.4,"2030":0.9,"2032":0.6,"2034":0.0,"2036":-0.6,"2038":-1.1,"2040":-1.3,"2042":-1.0,"2044":-0.5,"2046":0.0,"2048":0.5,"2050":0.8},
{"m":"m32","1940":-0.5,"1942":-0.9,"1944":-1.1,"1946":-0.6,"1948":0.0,"1950":0.6,"1952":0.2,"1954":-0.7,"1956":-1.4,"1958":-1.0,"1960":-0.3,"1962":0.4,"1964":1.1,"1966":1.5,"1968":1.0,"1970":0.3,"1972":-0.4,"1974":-1.0,"1976":-1.5,"1978":-1.9,"1980":-2.0,"1982":-2.4,"1984":-2.5,"1986":-2.1,"1988":-1.5,"1990":-0.8,"1992":-0.1,"1994":0.5,"1996":1.0,"1998":1.3,"2000":1.1,"2002":0.5,"2004":-0.1,"2006":-0.6,"2008":-0.9,"2010":-1.1,"2012":-1.2,"2014":-0.8,"2016":-0.3,"2018":0.2,"2020":0.5,"2022":0.8,"2024":0.6,"2026":0.1,"2028":-0.4,"2030":-0.8,"2032":-1.2,"2034":-1.5,"2036":-1.2,"2038":-0.7,"2040":-0.2,"2042":0.3,"2044":0.8,"2046":1.2,"2048":0.8,"2050":0.2},
{"m":"m33","1940":0.9,"1942":0.5,"1944":0.0,"1946":-0.5,"1948":-1.0,"1950":-1.3,"1952":-1.0,"1954":-0.3,"1956":0.5,"1958":1.2,"1960":0.8,"1962":-0.1,"1964":-0.9,"1966":-1.6,"1968":-1.9,"1970":-2.2,"1972":-2.3,"1974":-1.9,"1976":-1.3,"1978":-0.7,"1980":-1.1,"1982":-1.8,"1984":-1.4,"1986":-0.8,"1988":-0.3,"1990":-0.6,"1992":-1.2,"1994":-1.8,"1996":-2.1,"1998":-1.4,"2000":-0.6,"2002":0.1,"2004":0.7,"2006":1.3,"2008":1.8,"2010":2.3,"2012":1.9,"2014":1.2,"2016":0.4,"2018":-0.2,"2020":-0.8,"2022":-1.2,"2024":-1.0,"2026":-0.5,"2028":0.0,"2030":0.5,"2032":0.9,"2034":1.2,"2036":0.9,"2038":0.4,"2040":-0.2,"2042":-0.8,"2044":-1.4,"2046":-1.3,"2048":-0.8,"2050":-0.4},
{"m":"m34","1940":-1.1,"1942":-0.6,"1944":0.0,"1946":0.6,"1948":1.2,"1950":1.7,"1952":0.8,"1954":-0.6,"1956":-1.6,"1958":-1.4,"1960":-0.8,"1962":-0.3,"1964":0.2,"1966":0.8,"1968":1.2,"1970":0.9,"1972":0.4,"1974":1.1,"1976":1.7,"1978":1.9,"1980":0.7,"1982":-0.4,"1984":-1.1,"1986":-1.6,"1988":-1.9,"1990":-1.4,"1992":-1.8,"1994":-2.2,"1996":-1.7,"1998":-0.8,"2000":0.2,"2002":0.9,"2004":1.4,"2006":1.7,"2008":1.9,"2010":1.5,"2012":0.8,"2014":0.1,"2016":-0.5,"2018":-0.9,"2020":-1.3,"2022":-1.1,"2024":-0.6,"2026":0.0,"2028":0.6,"2030":1.0,"2032":1.3,"2034":1.0,"2036":0.5,"2038":-0.1,"2040":-0.6,"2042":-1.1,"2044":-1.7,"2046":-1.2,"2048":-0.6,"2050":0.0},
{"m":"m35","1940":-0.2,"1942":-0.6,"1944":-1.0,"1946":-1.4,"1948":-1.2,"1950":-0.7,"1952":-1.3,"1954":-2.1,"1956":-1.8,"1958":-1.0,"1960":-0.2,"1962":0.6,"1964":1.2,"1966":0.9,"1968":0.3,"1970":-0.4,"1972":-1.1,"1974":-1.6,"1976":-1.8,"1978":-1.4,"1980":-1.7,"1982":-2.1,"1984":-2.4,"1986":-2.0,"1988":-1.3,"1990":-0.6,"1992":0.1,"1994":0.7,"1996":1.3,"1998":1.7,"2000":2.0,"2002":1.5,"2004":0.9,"2006":0.4,"2008":-0.1,"2010":-0.5,"2012":-0.9,"2014":-1.2,"2016":-1.5,"2018":-1.3,"2020":-2.0,"2022":-2.2,"2024":-1.1,"2026":-0.3,"2028":0.3,"2030":0.8,"2032":1.2,"2034":1.0,"2036":0.4,"2038":-0.2,"2040":-0.7,"2042":-1.3,"2044":-2.0,"2046":-1.5,"2048":-1.0,"2050":-0.7}
]},
"layer":[
{"data":{"name":"refs"},
 "mark":{"type":"rule","color":"#ff0000","strokeDash":[14,10],"strokeWidth":1.5},
 "encoding":{"y":{"field":"level","type":"quantitative","scale":{"domain":[-3,3],"nice":false,"zero":false},
   "axis":{"orient":"right","values":[-3,-2,-1,0,1,2,3],"labels":false,"tickSize":-12,"domain":false,"grid":false,"title":null}}}},
{"data":{"name":"ens"},
 "transform":[{"fold":["1940","1942","1944","1946","1948","1950","1952","1954","1956","1958","1960","1962","1964","1966","1968","1970","1972","1974","1976","1978","1980","1982","1984","1986","1988","1990","1992","1994","1996","1998","2000","2002","2004","2006","2008","2010","2012","2014","2016","2018","2020","2022","2024","2026","2028","2030","2032","2034","2036","2038","2040","2042","2044","2046","2048","2050"],"as":["year","v"]}],
 "mark":{"type":"area","fill":"#ff0000","stroke":"#000000","strokeWidth":1.8,"fillOpacity":1,"clip":true},
 "encoding":{
  "x":{"field":"year","type":"quantitative","scale":{"domain":[1940.3,2050.5],"nice":false,"zero":false},
    "axis":{"orient":"top","values":[1960,1980,2000,2020,2040],"labels":false,"tickSize":-12,"domain":false,"grid":false,"title":null}},
  "y":{"field":"v","type":"quantitative","scale":{"domain":[1,3],"range":[{"expr":"height/3"},0],"clamp":true,"nice":false,"zero":false},"axis":null},
  "y2":{"datum":1},
  "detail":{"field":"m"}}},
{"data":{"name":"ens"},
 "transform":[{"fold":["1940","1942","1944","1946","1948","1950","1952","1954","1956","1958","1960","1962","1964","1966","1968","1970","1972","1974","1976","1978","1980","1982","1984","1986","1988","1990","1992","1994","1996","1998","2000","2002","2004","2006","2008","2010","2012","2014","2016","2018","2020","2022","2024","2026","2028","2030","2032","2034","2036","2038","2040","2042","2044","2046","2048","2050"],"as":["year","v"]}],
 "mark":{"type":"area","fill":"#0000ff","stroke":"#000000","strokeWidth":1.8,"fillOpacity":1,"clip":true},
 "encoding":{
  "x":{"field":"year","type":"quantitative","scale":{"domain":[1940.3,2050.5],"nice":false,"zero":false},"axis":null},
  "y":{"field":"v","type":"quantitative","scale":{"domain":[-3,-1],"range":[{"expr":"height"},{"expr":"height*2/3"}],"clamp":true,"nice":false,"zero":false},"axis":null},
  "y2":{"datum":-1},
  "detail":{"field":"m"}}},
{"layer":[
 {"data":{"name":"ens"},
  "transform":[{"fold":["1940","1942","1944","1946","1948","1950","1952","1954","1956","1958","1960","1962","1964","1966","1968","1970","1972","1974","1976","1978","1980","1982","1984","1986","1988","1990","1992","1994","1996","1998","2000","2002","2004","2006","2008","2010","2012","2014","2016","2018","2020","2022","2024","2026","2028","2030","2032","2034","2036","2038","2040","2042","2044","2046","2048","2050"],"as":["year","v"]}],
  "mark":{"type":"line","color":"#000000","strokeWidth":2.4,"clip":true},
  "encoding":{
   "x":{"field":"year","type":"quantitative","scale":{"domain":[1940.3,2050.5],"nice":false,"zero":false},
     "axis":{"orient":"bottom","values":[1960,1980,2000,2020,2040],"format":"d","title":"Year","grid":true,"gridColor":"#000000","gridDash":[12,8],"gridWidth":1.5,"tickSize":-12,"domain":false,"labelFontSize":34,"labelPadding":25,"titleFontSize":34,"titlePadding":-2}},
   "y":{"field":"v","type":"quantitative","scale":{"domain":[-3,3],"nice":false,"zero":false},
     "axis":{"orient":"left","values":[-3,-2,-1,0,1,2,3],"format":"d","title":"AMO Index (σ)","grid":false,"tickSize":-12,"domain":false,"labelFontSize":34,"labelPadding":25,"titleFontSize":34,"titlePadding":14}},
   "detail":{"field":"m"}}},
 {"data":{"name":"notes"},
  "mark":{"type":"text","font":"Liberation Serif","fontStyle":"italic","fontSize":52,"align":"left","baseline":"alphabetic","color":"#000000","dx":2},
  "encoding":{
   "x":{"field":"x","type":"quantitative","scale":{"domain":[1940.3,2050.5],"nice":false,"zero":false}},
   "y":{"field":"y","type":"quantitative","scale":{"domain":[-3,3],"nice":false,"zero":false}},
   "text":{"field":"label"}}}
]}
],
"resolve":{"scale":{"y":"independent"},"axis":{"x":"independent"}}
}
